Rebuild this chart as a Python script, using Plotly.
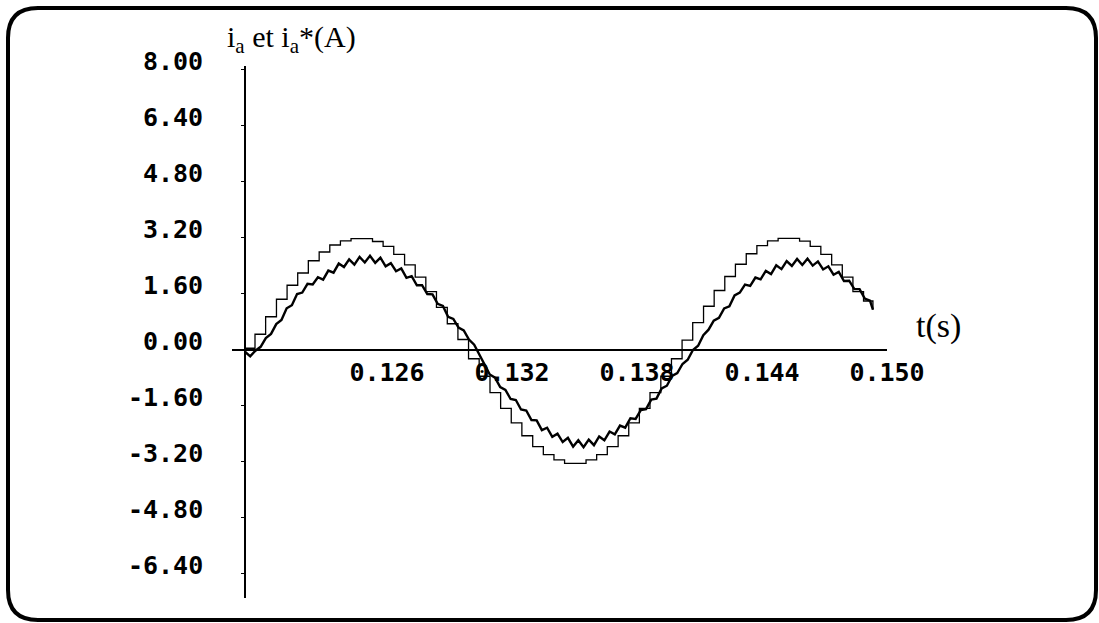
import plotly.graph_objects as go

# ---------------- data ----------------
# reference current i_a* (sampled / held staircase)
t_ref = [0.12000, 0.12048, 0.12099, 0.12151, 0.12202, 0.12253, 0.12304, 0.12356, 0.12407, 0.12458,
         0.12509, 0.12561, 0.12612, 0.12663, 0.12714, 0.12766, 0.12817, 0.12868, 0.12919, 0.12971,
         0.13022, 0.13073, 0.13124, 0.13176, 0.13227, 0.13278, 0.13329, 0.13381, 0.13432, 0.13483,
         0.13534, 0.13586, 0.13637, 0.13688, 0.13739, 0.13791, 0.13842, 0.13893, 0.13944, 0.13996,
         0.14047, 0.14098, 0.14149, 0.14201, 0.14252, 0.14303, 0.14354, 0.14406, 0.14457, 0.14508,
         0.14559, 0.14611, 0.14662, 0.14713, 0.14764, 0.14816, 0.14867, 0.14918, 0.14969, 0.15014]
i_ref = [0.05, 0.45, 0.95, 1.45, 1.85, 2.20, 2.55, 2.80, 3.00, 3.12,
         3.18, 3.18, 3.10, 2.96, 2.73, 2.43, 2.08, 1.67, 1.22, 0.75,
         0.30, -0.25, -0.75, -1.22, -1.67, -2.08, -2.45, -2.76, -2.99, -3.14,
         -3.24, -3.24, -3.14, -2.99, -2.76, -2.45, -2.08, -1.67, -1.22, -0.75,
         -0.25, 0.28, 0.78, 1.25, 1.70, 2.10, 2.45, 2.75, 2.98, 3.12,
         3.19, 3.19, 3.11, 2.96, 2.73, 2.43, 2.08, 1.67, 1.40, 1.15]

# measured current i_a (with switching ripple)
t_meas = [0.12000, 0.12025, 0.12050, 0.12075, 0.12100, 0.12125, 0.12150, 0.12175, 0.12200, 0.12225,
          0.12250, 0.12275, 0.12300, 0.12325, 0.12350, 0.12375, 0.12400, 0.12425, 0.12450, 0.12475,
          0.12500, 0.12525, 0.12550, 0.12575, 0.12600, 0.12625, 0.12650, 0.12675, 0.12700, 0.12725,
          0.12750, 0.12775, 0.12800, 0.12825, 0.12850, 0.12875, 0.12900, 0.12925, 0.12950, 0.12975,
          0.13000, 0.13025, 0.13050, 0.13075, 0.13100, 0.13125, 0.13150, 0.13175, 0.13200, 0.13225,
          0.13250, 0.13275, 0.13300, 0.13325, 0.13350, 0.13375, 0.13400, 0.13425, 0.13450, 0.13475,
          0.13500, 0.13525, 0.13550, 0.13575, 0.13600, 0.13625, 0.13650, 0.13675, 0.13700, 0.13725,
          0.13750, 0.13775, 0.13800, 0.13825, 0.13850, 0.13875, 0.13900, 0.13925, 0.13950, 0.13975,
          0.14000, 0.14025, 0.14050, 0.14075, 0.14100, 0.14125, 0.14150, 0.14175, 0.14200, 0.14225,
          0.14250, 0.14275, 0.14300, 0.14325, 0.14350, 0.14375, 0.14400, 0.14425, 0.14450, 0.14475,
          0.14500, 0.14525, 0.14550, 0.14575, 0.14600, 0.14625, 0.14650, 0.14675, 0.14700, 0.14725,
          0.14750, 0.14775, 0.14800, 0.14825, 0.14850, 0.14875, 0.14900, 0.14925, 0.14950, 0.14975,
          0.15000, 0.15014]
i_meas = [-0.05, -0.18, -0.02, 0.09, 0.34, 0.46, 0.74, 0.86, 1.19, 1.28,
          1.60, 1.64, 1.89, 1.87, 2.08, 2.01, 2.27, 2.21, 2.47, 2.37,
          2.59, 2.44, 2.66, 2.50, 2.69, 2.49, 2.64, 2.39, 2.48, 2.25,
          2.33, 2.06, 2.11, 1.85, 1.85, 1.60, 1.59, 1.32, 1.26, 0.95,
          0.89, 0.64, 0.56, 0.30, 0.15, -0.14, -0.40, -0.70, -0.79, -1.06,
          -1.14, -1.40, -1.43, -1.70, -1.73, -2.00, -2.01, -2.29, -2.22, -2.48,
          -2.39, -2.63, -2.51, -2.76, -2.58, -2.78, -2.56, -2.72, -2.47, -2.58,
          -2.33, -2.41, -2.16, -2.22, -1.95, -1.97, -1.72, -1.69, -1.42, -1.39,
          -1.10, -1.02, -0.74, -0.66, -0.40, -0.28, 0.00, 0.12, 0.42, 0.58,
          0.84, 0.92, 1.19, 1.25, 1.56, 1.64, 1.87, 1.83, 2.07, 2.02,
          2.26, 2.17, 2.42, 2.31, 2.54, 2.40, 2.60, 2.43, 2.61, 2.41,
          2.53, 2.30, 2.39, 2.15, 2.23, 1.97, 1.98, 1.74, 1.74, 1.47,
          1.41, 1.15]

y_tick_vals = [8.0, 6.4, 4.8, 3.2, 1.6, 0.0, -1.6, -3.2, -4.8, -6.4]
y_tick_text = ["8.00", "6.40", "4.80", "3.20", "1.60", "0.00", "-1.60", "-3.20", "-4.80", "-6.40"]
x_tick_vals = [0.126, 0.132, 0.138, 0.144, 0.150]
x_tick_text = ["0.126", "0.132", "0.138", "0.144", "0.150"]
y_title = "i<sub>a</sub> et i<sub>a</sub>*(A)"
x_title = "t(s)"

# ---------------- layout ----------------
W, H = 1099, 623
L, R, T, B = 232, 887, 66, 598


def px(x):
    return (x - L) / (R - L)


def py(y):
    return (B - y) / (B - T)


fig = go.Figure()
fig.add_trace(go.Scatter(x=t_ref, y=i_ref, mode="lines",
                         line=dict(color="black", width=1.3, shape="hv"),
                         hoverinfo="skip"))
fig.add_trace(go.Scatter(x=t_meas, y=i_meas, mode="lines",
                         line=dict(color="black", width=2.4),
                         hoverinfo="skip"))

tickfont = dict(family="DejaVu Sans Mono", size=25, color="black", weight="bold")

fig.update_layout(
    width=W, height=H,
    margin=dict(l=L, r=W - R, t=T, b=H - B, pad=0),
    paper_bgcolor="white", plot_bgcolor="white",
    showlegend=False,
    xaxis=dict(range=[0.119376, 0.150816], showgrid=False, zeroline=False,
               showline=True, linecolor="black", linewidth=1.6,
               anchor="free", position=py(350),
               tickmode="array", tickvals=x_tick_vals, ticktext=x_tick_text,
               ticks="", tickfont=tickfont, ticklabelshift=17, ticklabelstandoff=0),
    yaxis=dict(range=[-7.086, 8.114], showgrid=False, zeroline=False,
               showline=True, linecolor="black", linewidth=1.6,
               anchor="free", position=px(245),
               tickmode="array", tickvals=y_tick_vals, ticktext=y_tick_text,
               ticks="outside", ticklen=3, tickwidth=1.2, tickcolor="black",
               tickfont=tickfont, ticklabelshift=-9, ticklabelstandoff=33),
)

fig.add_annotation(x=px(225), y=py(39), xref="paper", yref="paper",
                   text=y_title, showarrow=False, xanchor="left", yanchor="middle",
                   font=dict(family="Liberation Serif", size=30, color="black"))
fig.add_annotation(x=px(938), y=py(326), xref="paper", yref="paper",
                   text=x_title, showarrow=False, xanchor="center", yanchor="middle",
                   font=dict(family="Liberation Serif", size=34, color="black"))

# rounded frame
x0, x1, y0, y1, r = 8, 1096, 8, 620, 30
path = (f"M {px(x0 + r)} {py(y0)} L {px(x1 - r)} {py(y0)} "
        f"Q {px(x1)} {py(y0)} {px(x1)} {py(y0 + r)} "
        f"L {px(x1)} {py(y1 - r)} Q {px(x1)} {py(y1)} {px(x1 - r)} {py(y1)} "
        f"L {px(x0 + r)} {py(y1)} Q {px(x0)} {py(y1)} {px(x0)} {py(y1 - r)} "
        f"L {px(x0)} {py(y0 + r)} Q {px(x0)} {py(y0)} {px(x0 + r)} {py(y0)} Z")
fig.add_shape(type="path", path=path, xref="paper", yref="paper",
              line=dict(color="black", width=4), layer="above")

fig.write_html("out.html", config={"displayModeBar": False},
               post_script="document.body.style.margin='0';")
